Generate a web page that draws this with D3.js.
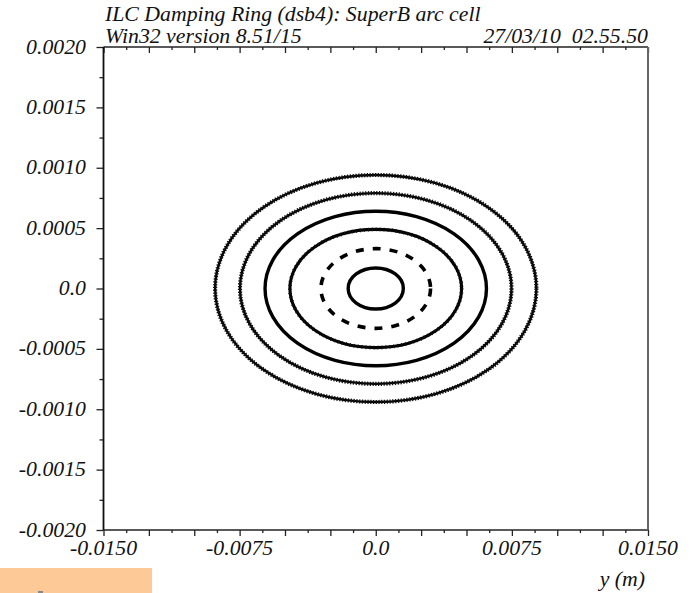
<!DOCTYPE html>
<html>
<head>
<meta charset="utf-8">
<script src="https://cdn.jsdelivr.net/npm/d3@7"></script>
<style>
  body { margin: 0; background: #fff; }
  svg { display: block; }
  text { font-family: "Liberation Serif", "Times New Roman", serif; font-style: italic; fill: #111; }
</style>
</head>
<body>
<script>
var width = 695, height = 593;
var mLeft = 103.5, mRight = 648, mTop = 47, mBottom = 530;

// axis ranges and tick labels
var xDomain = [-0.015, 0.015];
var yDomain = [-0.002, 0.002];
var xLabels = [-0.015, -0.0075, 0, 0.0075, 0.015];
var xLabelText = ["-0.0150", "-0.0075", "0.0", "0.0075", "0.0150"];
var yLabels = [0.002, 0.0015, 0.001, 0.0005, 0, -0.0005, -0.001, -0.0015, -0.002];
var yLabelText = ["0.0020", "0.0015", "0.0010", "0.0005", "0.0", "-0.0005", "-0.0010", "-0.0015", "-0.0020"];

// tracked orbits: half-widths in y (m) and in y' for each ring
var ringAmpX = [0.00885, 0.00748, 0.00610, 0.00473, 0.00302, 0.00152];
var ringAmpY = [0.00094, 0.00079, 0.00064, 0.00049, 0.00033, 0.00017];
var ringKind = ["fuzzy", "fuzzy", "solid", "grainy", "dashed", "solid"];

var title1 = "ILC Damping Ring (dsb4): SuperB arc cell";
var title2 = "Win32 version 8.51/15";
var stamp = "27/03/10  02.55.50";
var xTitle = "y (m)";

var svg = d3.select("body").append("svg")
  .attr("width", width).attr("height", height);

var x = d3.scaleLinear().domain(xDomain).range([mLeft, mRight]);
var y = d3.scaleLinear().domain(yDomain).range([mBottom, mTop]);

var fs = 20, sx = 1.09; // font is a bit wide in the original
function label(g, tx, ty, str, anchor) {
  g.append("text")
    .attr("transform", "translate(" + tx + "," + ty + ") scale(" + sx + ",1)")
    .attr("text-anchor", anchor)
    .style("font-size", fs + "px")
    .style("white-space", "pre")
    .text(str);
}

// rings: a solid core, and for the marker rings a bumpy overlay
var styles = {
  fuzzy:  { core: 2.4, over: 4.2, dash: "1.3,1.5" },
  solid:  { core: 3.4, over: 0, dash: null },
  grainy: { core: 3.1, over: 3.8, dash: "1,3" },
  dashed: { core: 3.6, over: 0, dash: "8,9" }
};
var rings = svg.append("g");
ringAmpX.forEach(function (ax, i) {
  var s = styles[ringKind[i]];
  var e = rings.append("ellipse")
    .attr("cx", x(0)).attr("cy", y(0))
    .attr("rx", x(ax) - x(0)).attr("ry", y(0) - y(ringAmpY[i]))
    .attr("fill", "none").attr("stroke", "#000")
    .attr("stroke-width", s.core);
  if (ringKind[i] == "dashed") e.attr("stroke-dasharray", s.dash);
  if (s.over) {
    rings.append("ellipse")
      .attr("cx", x(0)).attr("cy", y(0))
      .attr("rx", x(ax) - x(0)).attr("ry", y(0) - y(ringAmpY[i]))
      .attr("fill", "none").attr("stroke", "#111")
      .attr("stroke-width", s.over)
      .attr("stroke-dasharray", s.dash);
  }
});

// ticks: major every 0.0025, minor every 0.00125 on x
var xMajor = d3.range(-0.015, 0.0151, 0.0025);
var xMinor = d3.range(-0.01375, 0.015, 0.0025);
var yMajor = d3.range(-0.002, 0.00201, 0.0005);
var yMinor = d3.range(-0.00175, 0.002, 0.0005);

function noDomain(g) { g.select(".domain").remove(); }
svg.append("g").attr("transform", "translate(0," + mBottom + ")")
  .call(d3.axisBottom(x).tickValues(xMajor).tickSize(6).tickFormat("")).call(noDomain);
svg.append("g").attr("transform", "translate(0," + mBottom + ")")
  .call(d3.axisBottom(x).tickValues(xMinor).tickSize(3).tickFormat("")).call(noDomain);
svg.append("g").attr("transform", "translate(0," + mTop + ")")
  .call(d3.axisBottom(x).tickValues(xMajor).tickSize(6).tickFormat("")).call(noDomain);
svg.append("g").attr("transform", "translate(0," + mTop + ")")
  .call(d3.axisBottom(x).tickValues(xMinor).tickSize(3).tickFormat("")).call(noDomain);
svg.append("g").attr("transform", "translate(" + mLeft + ",0)")
  .call(d3.axisLeft(y).tickValues(yMajor).tickSize(7).tickFormat("")).call(noDomain);
svg.append("g").attr("transform", "translate(" + mLeft + ",0)")
  .call(d3.axisLeft(y).tickValues(yMinor).tickSize(4).tickFormat("")).call(noDomain);
svg.selectAll(".tick line").attr("stroke", "#222").attr("stroke-width", 1.3);

// frame
svg.append("line").attr("x1", mLeft).attr("x2", mRight).attr("y1", mTop).attr("y2", mTop)
  .attr("stroke", "#222").attr("stroke-width", 1.5);
svg.append("line").attr("x1", mLeft).attr("x2", mRight).attr("y1", mBottom).attr("y2", mBottom)
  .attr("stroke", "#222").attr("stroke-width", 1.5);
svg.append("line").attr("x1", mLeft).attr("x2", mLeft).attr("y1", mTop).attr("y2", mBottom)
  .attr("stroke", "#111").attr("stroke-width", 1.8);
svg.append("line").attr("x1", mRight).attr("x2", mRight).attr("y1", mTop).attr("y2", mBottom)
  .attr("stroke", "#666").attr("stroke-width", 2);

// labels
var lab = svg.append("g");
xLabels.forEach(function (v, i) { label(lab, x(v), 555, xLabelText[i], "middle"); });
yLabels.forEach(function (v, i) { label(lab, 86, y(v) + 6.5, yLabelText[i], "end"); });
label(lab, 105, 21, title1, "start");
label(lab, 105, 43, title2, "start");
label(lab, mRight, 43, stamp, "end");
label(lab, mRight - 3, 586, xTitle, "end");

// stray bits at bottom left of the original
svg.append("rect").attr("x", 0).attr("y", 568).attr("width", 152).attr("height", 25)
  .attr("fill", "#fdc997");
svg.append("rect").attr("x", 38).attr("y", 591).attr("width", 5).attr("height", 2)
  .attr("fill", "#888");
</script>
</body>
</html>
